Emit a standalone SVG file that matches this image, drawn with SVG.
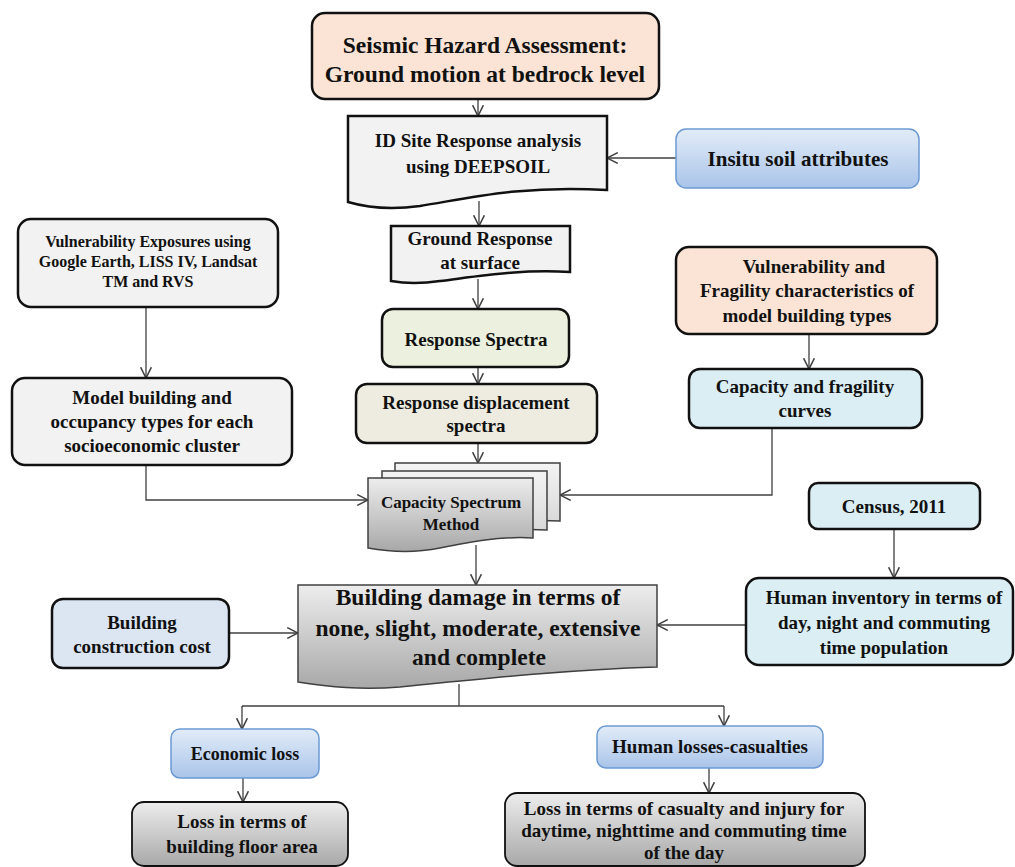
<svg xmlns="http://www.w3.org/2000/svg" width="1015" height="867" viewBox="0 0 1015 867">
<defs>
<style>
text{font-family:"Liberation Serif","Times New Roman",serif;font-weight:bold;fill:#111;text-anchor:middle}
.f24{font-size:23.5px}.f21{font-size:21px}.f19{font-size:19px}.f18{font-size:18px}.f17{font-size:17px}.f16{font-size:16px}
.bk{stroke:#111;stroke-width:2.5}
.bl{stroke:#6b9ad3;stroke-width:1.5}
.gr{stroke:#404040;stroke-width:1.5}
.peach{fill:#fbe4d5}.lgray{fill:#f2f2f2}.green{fill:#ebf1de}.beige{fill:#eeece1}.cyan{fill:#dbeef4}.pblue{fill:#dce6f2}
.conn path{fill:none;stroke:#404040;stroke-width:1.3}
</style>
<linearGradient id="gBlue" x1="0" y1="0" x2="0" y2="1"><stop offset="0" stop-color="#e2ecf8"/><stop offset="1" stop-color="#a9c4e9"/></linearGradient>
<linearGradient id="gGray" x1="0" y1="0" x2="0" y2="1"><stop offset="0" stop-color="#ededed"/><stop offset="1" stop-color="#a8a8a8"/></linearGradient>
<linearGradient id="gGrayL" x1="0" y1="0" x2="0" y2="1"><stop offset="0" stop-color="#f4f4f4"/><stop offset="1" stop-color="#d6d6d6"/></linearGradient>
<marker id="arr" markerUnits="userSpaceOnUse" markerWidth="12" markerHeight="12" viewBox="0 0 10 10" refX="9" refY="5" orient="auto"><path d="M0,0.5 L9,5 L0,9.5" fill="none" stroke="#404040" stroke-width="1.3"/></marker>
</defs>
<rect width="1015" height="867" fill="#fff"/>

<g class="conn">
<path d="M478,99 V116" marker-end="url(#arr)"/>
<path d="M676,158 H607" marker-end="url(#arr)"/>
<path d="M479,201 V226" marker-end="url(#arr)"/>
<path d="M478,279 V309" marker-end="url(#arr)"/>
<path d="M478,367 V384" marker-end="url(#arr)"/>
<path d="M478,443 V463" marker-end="url(#arr)"/>
<path d="M146,307 V378" marker-end="url(#arr)"/>
<path d="M146,465 V500 H368" marker-end="url(#arr)"/>
<path d="M809,334 V369" marker-end="url(#arr)"/>
<path d="M772,428 V495 H560" marker-end="url(#arr)"/>
<path d="M894,529 V578" marker-end="url(#arr)"/>
<path d="M476,545 V585" marker-end="url(#arr)"/>
<path d="M229,633 H298" marker-end="url(#arr)"/>
<path d="M746,625 H657" marker-end="url(#arr)"/>
<path d="M459,684 V706 M242,706 H724"/>
<path d="M242,706 V729" marker-end="url(#arr)"/>
<path d="M724,706 V726" marker-end="url(#arr)"/>
<path d="M243,778 V802" marker-end="url(#arr)"/>
<path d="M709,768 V793" marker-end="url(#arr)"/>
</g>

<g id="seismic">
<rect x="312" y="13" width="347" height="86" rx="13" class="peach bk"/>
<text class="f24" x="485" y="53">Seismic Hazard Assessment:</text>
<text class="f24" x="485" y="82">Ground motion at bedrock level</text>
</g>

<g id="site-response">
<path d="M348,116 H607 V190 C520,185 470,198 420,206 C390,210 365,207 348,202 Z" class="lgray bk"/>
<text class="f19" x="478" y="147">ID Site Response analysis</text>
<text class="f19" x="478" y="173">using DEEPSOIL</text>
</g>

<g id="insitu">
<rect x="676" y="129" width="243" height="59" rx="10" fill="url(#gBlue)" class="bl"/>
<text class="f21" x="798" y="166">Insitu soil attributes</text>
</g>

<g id="ground-response">
<path d="M391,226 H570 V272 C520,269 480,276 440,281 C420,284 402,283 391,281 Z" class="lgray bk"/>
<text class="f19" x="480" y="245">Ground Response</text>
<text class="f19" x="480" y="269">at surface</text>
</g>

<g id="response-spectra">
<rect x="382" y="309" width="187" height="58" rx="11" class="green bk"/>
<text class="f19" x="476" y="346">Response Spectra</text>
</g>

<g id="response-displacement">
<rect x="356" y="384" width="241" height="59" rx="11" class="beige bk"/>
<text class="f19" x="476" y="409">Response displacement</text>
<text class="f19" x="476" y="432">spectra</text>
</g>

<g id="vulnerability-exposures">
<rect x="18" y="219" width="260" height="88" rx="13" class="lgray bk"/>
<text class="f16" x="148" y="247">Vulnerability Exposures using</text>
<text class="f16" x="148" y="267">Google Earth, LISS IV, Landsat</text>
<text class="f16" x="148" y="287">TM and RVS</text>
</g>

<g id="model-building">
<rect x="12" y="378" width="280" height="87" rx="13" class="lgray bk"/>
<text class="f19" x="152" y="404">Model building and</text>
<text class="f19" x="152" y="428">occupancy types for each</text>
<text class="f19" x="152" y="452">socioeconomic cluster</text>
</g>

<g id="vulnerability-fragility">
<rect x="676" y="247" width="261" height="87" rx="13" class="peach bk"/>
<text class="f19" x="814" y="273">Vulnerability and</text>
<text class="f19" x="807" y="297">Fragility characteristics of</text>
<text class="f19" x="807" y="322">model building types</text>
</g>

<g id="capacity-curves">
<rect x="689" y="369" width="233" height="59" rx="11" class="cyan bk"/>
<text class="f19" x="805" y="393">Capacity and fragility</text>
<text class="f19" x="805" y="417">curves</text>
</g>

<g id="capacity-spectrum">
<path d="M395,463 H560 V521 C530,519 500,522 470,528 L395,528 Z" fill="url(#gGrayL)" class="gr"/>
<path d="M382,471 H547 V530 C515,528 490,532 460,537 L382,537 Z" fill="url(#gGrayL)" class="gr"/>
<path d="M368,478 H533 V538 C500,536 470,542 440,548 C415,553 390,552 368,548 Z" fill="url(#gGray)" class="gr"/>
<text class="f17" x="451" y="508">Capacity Spectrum</text>
<text class="f17" x="451" y="530">Method</text>
</g>

<g id="census">
<rect x="809" y="483" width="171" height="46" rx="9" class="cyan bk"/>
<text class="f19" x="894" y="513">Census, 2011</text>
</g>

<g id="human-inventory">
<rect x="746" y="578" width="267" height="87" rx="13" class="cyan bk"/>
<text class="f19" x="884" y="604">Human inventory in terms of</text>
<text class="f19" x="884" y="629">day, night and commuting</text>
<text class="f19" x="884" y="654">time population</text>
</g>

<g id="construction-cost">
<rect x="52" y="599" width="177" height="69" rx="11" class="pblue bk"/>
<text class="f19" x="142" y="629">Building</text>
<text class="f19" x="142" y="653">construction cost</text>
</g>

<g id="building-damage">
<path d="M298,585 H657 V667 C560,670 470,680 400,687 C360,690 330,687 298,682 Z" fill="url(#gGray)" class="gr"/>
<text class="f24" x="478" y="605">Building damage in terms of</text>
<text class="f24" x="478" y="636">none, slight, moderate, extensive</text>
<text class="f24" x="479" y="665">and complete</text>
</g>

<g id="economic-loss">
<rect x="171" y="729" width="148" height="49" rx="9" fill="url(#gBlue)" class="bl"/>
<text class="f18" x="245" y="760">Economic loss</text>
</g>

<g id="human-losses">
<rect x="597" y="726" width="226" height="42" rx="9" fill="url(#gBlue)" class="bl"/>
<text class="f19" x="710" y="753">Human losses-casualties</text>
</g>

<g id="loss-floor-area">
<rect x="132" y="802" width="216" height="64" rx="12" fill="url(#gGray)" stroke="#111" stroke-width="1.8"/>
<text class="f19" x="242" y="828">Loss in terms of</text>
<text class="f19" x="242" y="853">building floor area</text>
</g>

<g id="loss-casualty">
<rect x="505" y="793" width="360" height="73" rx="12" fill="url(#gGray)" stroke="#111" stroke-width="1.8"/>
<text class="f19" x="684" y="815">Loss in terms of casualty and injury for</text>
<text class="f19" x="684" y="837">daytime, nighttime and commuting time</text>
<text class="f19" x="684" y="859">of the day</text>
</g>
</svg>
